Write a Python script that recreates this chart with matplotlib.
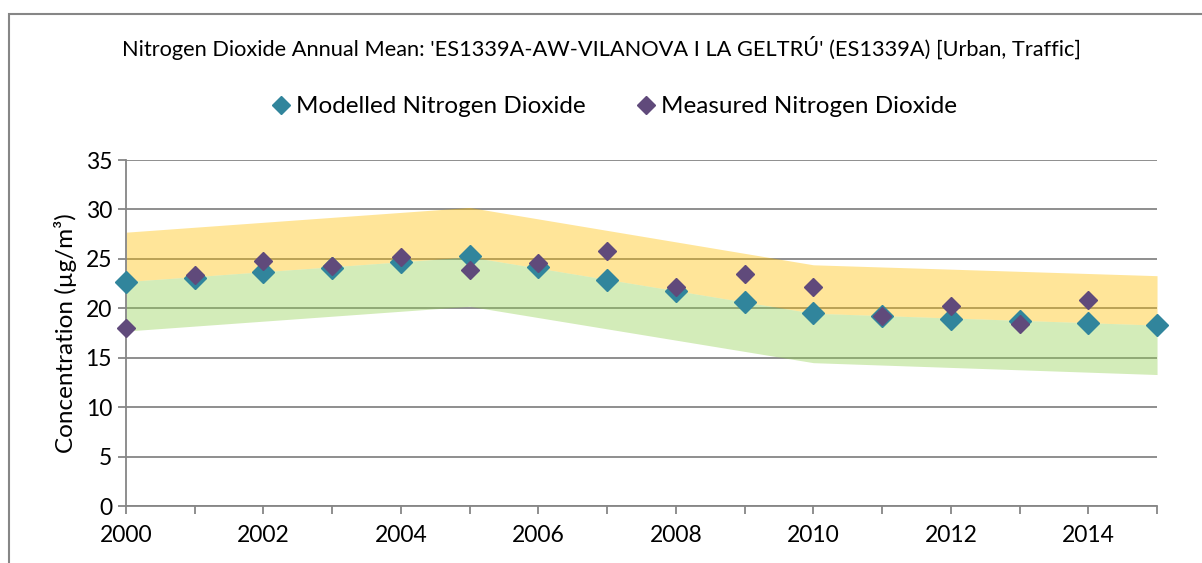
import matplotlib
matplotlib.use("Agg")
import matplotlib.pyplot as plt
from matplotlib.patches import Rectangle

plt.rcParams["font.family"] = ["Lato", "DejaVu Sans"]

TITLE = "Nitrogen Dioxide Annual Mean: 'ES1339A-AW-VILANOVA I LA GELTRÚ' (ES1339A) [Urban, Traffic]"

# modelled annual means
years_mod = [2000, 2001, 2002, 2003, 2004, 2005, 2006, 2007, 2008,
             2009, 2010, 2011, 2012, 2013, 2014, 2015]
modelled = [22.7, 23.1, 23.7, 24.1, 24.7, 25.3, 24.2, 22.9, 21.8,
            20.6, 19.5, 19.2, 18.9, 18.7, 18.5, 18.3]

# measured annual means
years_meas = [2000, 2001, 2002, 2003, 2004, 2005, 2006, 2007, 2008,
              2009, 2010, 2011, 2012, 2013, 2014]
measured = [18.0, 23.4, 24.8, 24.3, 25.2, 23.9, 24.6, 25.8, 22.2,
            23.5, 22.2, 19.2, 20.2, 18.4, 20.8]

# shaded range around the modelled values
band_years = [2000, 2005, 2010, 2015]
band_upper = [27.7, 30.2, 24.4, 23.3]
band_mid = [22.7, 25.2, 19.5, 18.3]
band_lower = [17.7, 20.2, 14.5, 13.3]

GRID = "#868686"

fig = plt.figure(figsize=(12.02, 5.63), dpi=100)
ax = fig.add_axes([0.1048, 0.1012, 0.8578, 0.6146])

ax.fill_between(band_years, band_mid, band_upper, color="#FFC000",
                alpha=0.4, lw=0, zorder=1)
ax.fill_between(band_years, band_lower, band_mid, color="#92D050",
                alpha=0.4, lw=0, zorder=1)

ax.plot(years_mod, modelled, ls="none", marker="D", ms=11,
        color="#31859C", label="Modelled Nitrogen Dioxide", zorder=3,
        clip_on=False)
ax.plot(years_meas, measured, ls="none", marker="D", ms=9.5,
        color="#604A7B", label="Measured Nitrogen Dioxide", zorder=4,
        clip_on=False)

ax.set_xlim(2000, 2015)
ax.set_ylim(0, 35)
ax.set_yticks(range(0, 36, 5))
ax.set_xticks(range(2000, 2016))
ax.set_xticklabels([str(y) if y % 2 == 0 else "" for y in range(2000, 2016)])
ax.yaxis.grid(True, color=GRID, lw=1.3, zorder=0)
ax.set_axisbelow(True)

for side in ("top", "right"):
    ax.spines[side].set_visible(False)
for side in ("left", "bottom"):
    ax.spines[side].set_color(GRID)
    ax.spines[side].set_linewidth(1.3)
ax.tick_params(axis="both", colors=GRID, labelcolor="black",
               labelsize=16.5, width=1.3, length=6, direction="out")
ax.tick_params(axis="x", pad=8)
ax.tick_params(axis="y", pad=4)

ax.set_ylabel("Concentration (µg/m³)", fontsize=17.5, labelpad=6)

fig.text(0.5, 0.915, TITLE, ha="center", va="center", fontsize=15.7)
leg = fig.legend(loc="center", bbox_to_anchor=(0.511, 0.81), ncol=2,
                 frameon=False, fontsize=17.5, handlelength=0.8,
                 handletextpad=0.25, columnspacing=2.05)
for h in leg.legend_handles:
    h.set_markersize(9.5)

# outer chart border
fig.patches.append(Rectangle((9 / 1202, -0.2), 1.2, 1.2 - 14 / 563,
                             transform=fig.transFigure, fill=False,
                             ec=GRID, lw=1.5))

fig.savefig("out.png", dpi=100)
